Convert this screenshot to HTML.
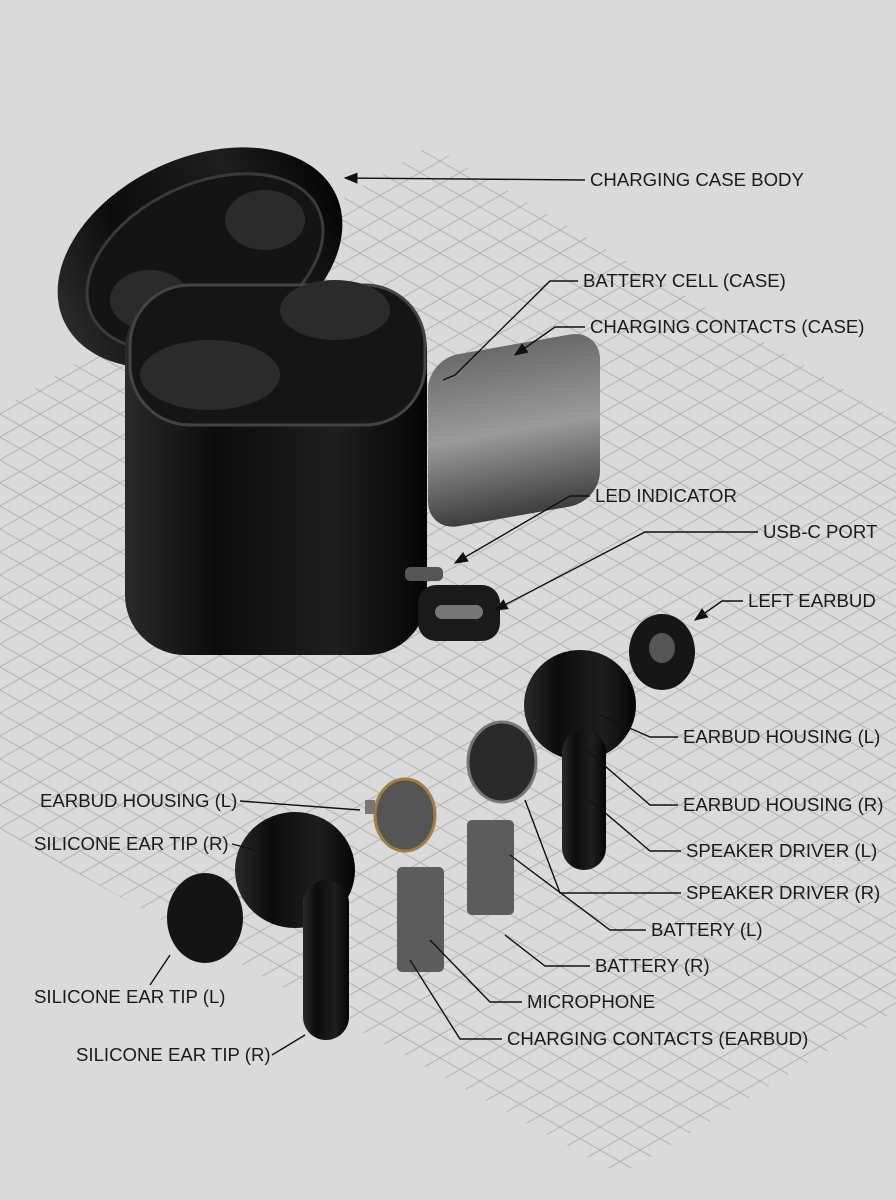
<!DOCTYPE html>
<html><head><meta charset="utf-8"><style>
html,body{margin:0;padding:0;background:#dadada;}
svg{display:block}
text{font-family:"Liberation Sans",sans-serif;font-size:18.6px;fill:#1a1a1a;}
</style></head><body>
<svg width="896" height="1200" viewBox="0 0 896 1200" xmlns="http://www.w3.org/2000/svg">
<defs>
<pattern id="g" width="40" height="23" patternUnits="userSpaceOnUse">
<path d="M0 0L40 23M40 0L0 23" stroke="#b4b4b4" stroke-width="1" fill="none"/>
</pattern>
<clipPath id="cp"><polygon points="0,410 430,145 896,420 896,1010 620,1175 0,830"/></clipPath>
<linearGradient id="blk" x1="0" x2="1"><stop offset="0" stop-color="#2a2a2a"/><stop offset="0.3" stop-color="#0c0c0c"/><stop offset="0.7" stop-color="#1e1e1e"/><stop offset="1" stop-color="#050505"/></linearGradient>
<linearGradient id="gry" x1="0" y1="0" x2="0" y2="1"><stop offset="0" stop-color="#6a6a6a"/><stop offset="0.5" stop-color="#9a9a9a"/><stop offset="1" stop-color="#3e3e3e"/></linearGradient>
<marker id="ar" markerWidth="10" markerHeight="8" refX="9" refY="4" orient="auto"><path d="M0,0 L10,4 L0,8z" fill="#111"/></marker>
</defs>
<rect width="896" height="1200" fill="#dadada"/>
<g clip-path="url(#cp)"><rect width="896" height="1200" fill="url(#g)"/></g>

<!-- case lid -->
<ellipse cx="200" cy="258" rx="150" ry="100" transform="rotate(-25 200 258)" fill="url(#blk)"/>
<ellipse cx="205" cy="262" rx="125" ry="78" transform="rotate(-25 205 262)" fill="#141414" stroke="#3a3a3a" stroke-width="3"/>
<ellipse cx="150" cy="300" rx="40" ry="30" fill="#2b2b2b"/>
<ellipse cx="265" cy="220" rx="40" ry="30" fill="#2b2b2b"/>
<!-- case body -->
<rect x="125" y="290" width="302" height="365" rx="60" fill="url(#blk)"/>
<rect x="130" y="285" width="295" height="140" rx="60" fill="#151515" stroke="#444" stroke-width="3"/>
<ellipse cx="210" cy="375" rx="70" ry="35" fill="#2b2b2b"/>
<ellipse cx="335" cy="310" rx="55" ry="30" fill="#2b2b2b"/>
<!-- battery cell -->
<rect x="428" y="355" width="172" height="172" rx="30" fill="url(#gry)" transform="skewY(-10) translate(0 80)"/>
<!-- LED + usbc -->
<rect x="405" y="567" width="38" height="14" rx="5" fill="#555"/>
<rect x="418" y="585" width="82" height="56" rx="18" fill="#1a1a1a"/>
<rect x="435" y="605" width="48" height="14" rx="7" fill="#777"/>
<!-- left earbud tip -->
<ellipse cx="662" cy="652" rx="33" ry="38" fill="#161616"/><ellipse cx="662" cy="648" rx="13" ry="15" fill="#555"/>
<!-- housing L right -->
<ellipse cx="580" cy="705" rx="56" ry="55" fill="url(#blk)"/>
<rect x="562" y="730" width="44" height="140" rx="22" fill="url(#blk)"/>
<!-- drivers -->
<ellipse cx="502" cy="762" rx="34" ry="40" fill="#2a2a2a" stroke="#777" stroke-width="3"/>
<ellipse cx="405" cy="815" rx="30" ry="36" fill="#555" stroke="#a08040" stroke-width="3"/>
<rect x="365" y="800" width="10" height="14" fill="#777"/>
<!-- batteries -->
<rect x="467" y="820" width="47" height="95" rx="5" fill="#5c5c5c"/>
<rect x="397" y="867" width="47" height="105" rx="5" fill="#5c5c5c"/>
<!-- left side earbud -->
<ellipse cx="295" cy="870" rx="60" ry="58" fill="url(#blk)"/>
<rect x="303" y="880" width="46" height="160" rx="23" fill="url(#blk)"/>
<ellipse cx="205" cy="918" rx="38" ry="45" fill="#141414"/>

<g stroke="#111" stroke-width="1.4" fill="none">
<polyline points="585,180 345,178" marker-end="url(#ar)"/>
<polyline points="578,281 550,281 455,375 443,380"/>
<polyline points="585,327 555,327 515,355" marker-end="url(#ar)"/>
<polyline points="590,496 570,496 455,563" marker-end="url(#ar)"/>
<polyline points="758,532 645,532 495,610" marker-end="url(#ar)"/>
<polyline points="743,601 722,601 695,620" marker-end="url(#ar)"/>
<polyline points="678,737 650,737 600,715"/>
<polyline points="678,805 650,805 575,740"/>
<polyline points="681,851 650,851 590,800"/>
<polyline points="681,893 560,893 525,800"/>
<polyline points="646,930 610,930 510,855"/>
<polyline points="590,966 545,966 505,935"/>
<polyline points="522,1002 490,1002 430,940"/>
<polyline points="502,1039 460,1039 410,960"/>
<polyline points="240,801 360,810"/>
<polyline points="232,844 255,850"/>
<polyline points="150,985 170,955"/>
<polyline points="272,1055 305,1035"/>
</g>

<text x="590" y="186">CHARGING CASE BODY</text>
<text x="583" y="287">BATTERY CELL (CASE)</text>
<text x="590" y="333">CHARGING CONTACTS (CASE)</text>
<text x="595" y="502">LED INDICATOR</text>
<text x="763" y="538">USB-C PORT</text>
<text x="748" y="607">LEFT EARBUD</text>
<text x="683" y="743">EARBUD HOUSING (L)</text>
<text x="683" y="811">EARBUD HOUSING (R)</text>
<text x="686" y="857">SPEAKER DRIVER (L)</text>
<text x="686" y="899">SPEAKER DRIVER (R)</text>
<text x="651" y="936">BATTERY (L)</text>
<text x="595" y="972">BATTERY (R)</text>
<text x="527" y="1008">MICROPHONE</text>
<text x="507" y="1045">CHARGING CONTACTS (EARBUD)</text>
<text x="40" y="807">EARBUD HOUSING (L)</text>
<text x="34" y="850">SILICONE EAR TIP (R)</text>
<text x="34" y="1003">SILICONE EAR TIP (L)</text>
<text x="76" y="1061">SILICONE EAR TIP (R)</text>
</svg>
</body></html>
